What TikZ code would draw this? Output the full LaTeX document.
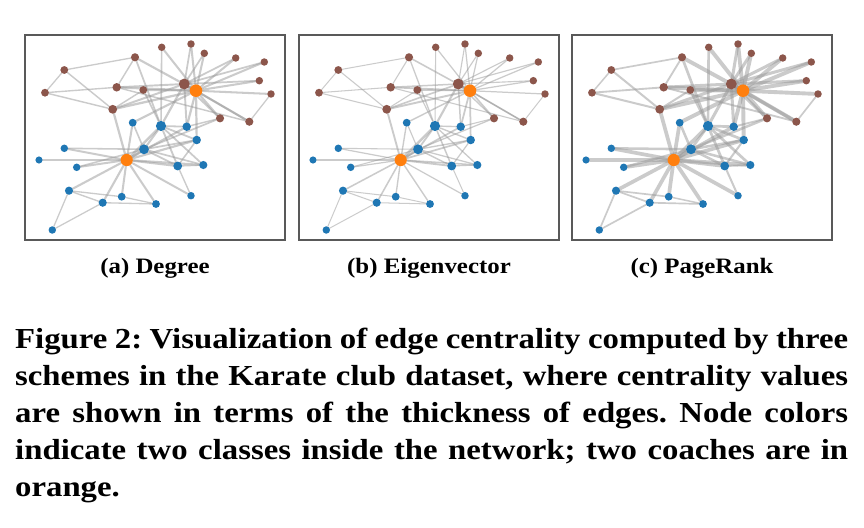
\documentclass[tikz,border=0pt]{standalone}
\usepackage{fontspec}
\setmainfont{Liberation Serif}[FakeStretch=1.13]
\usepackage{xcolor}
\usetikzlibrary{positioning}
\definecolor{hiblue}{HTML}{1F77B4}
\definecolor{officerbrown}{HTML}{8C564B}
\definecolor{coachorange}{HTML}{FF7F0E}
\pgfdeclarelayer{paper}
\pgfdeclarelayer{edges}
\pgfsetlayers{paper,edges,main}
\tikzset{
  panelbox/.style={draw=black!65, line width=1.4pt},
  member/.style={circle, inner sep=0pt, draw=none},
  hiside/.style={member, fill=hiblue},
  offside/.style={member, fill=officerbrown},
  coach/.style={member, fill=coachorange},
  clubedge/.style={draw=black!40, draw opacity=0.5, line cap=round},
  subcap/.style={font=\fontsize{22}{26}\selectfont\bfseries, inner sep=0pt},
  figcap/.style={font=\fontsize{29}{37}\selectfont\bfseries\frenchspacing,
                 inner sep=0pt, text width=833pt, align=justify},
}
% node id / x / y / class (panel (a) coordinates)
\newcommand{\clubnodes}{0/126.7/160/coach, 1/144/149.3/hiside, 2/161/126/hiside,
  3/177.7/166/hiside, 4/156/204/hiside, 5/69/190.7/hiside, 6/102.7/202.7/hiside,
  7/203.3/165/hiside, 8/186.7/126.7/hiside, 9/161.7/47.3/offside,
  10/121.7/196.7/hiside, 11/39/160/hiside, 12/191/195.7/hiside,
  13/196.7/140/hiside, 14/191/44/offside, 15/204.3/53.3/offside,
  16/52.3/230/hiside, 17/64.3/148.3/hiside, 18/235.7/58/offside,
  19/132.7/122.7/hiside, 20/264.3/62/offside, 21/76.7/167.3/hiside,
  22/259.3/80.7/offside, 23/116.7/87.3/offside, 24/64.3/70/offside,
  25/45/92.7/offside, 26/271/94/offside, 27/135/57.3/offside,
  28/143.3/90/offside, 29/249.3/121.7/offside, 30/220/118.3/offside,
  31/112.7/109.3/offside, 32/184.3/84/offside, 33/196/90.7/coach}
\newcommand{\clubties}{0/1, 0/2, 0/3, 0/4, 0/5, 0/6, 0/7, 0/8, 0/10, 0/11,
  0/12, 0/13, 0/17, 0/19, 0/21, 0/31, 1/2, 1/3, 1/7, 1/13, 1/17, 1/19,
  1/21, 1/30, 2/3, 2/7, 2/8, 2/9, 2/13, 2/27, 2/28, 2/32, 3/7, 3/12, 3/13,
  4/6, 4/10, 5/6, 5/10, 5/16, 6/16, 8/30, 8/32, 8/33, 9/33, 13/33, 14/32,
  14/33, 15/32, 15/33, 18/32, 18/33, 19/33, 20/32, 20/33, 22/32, 22/33,
  23/25, 23/27, 23/29, 23/32, 23/33, 24/25, 24/27, 24/31, 25/31, 26/29,
  26/33, 27/33, 28/31, 28/33, 29/32, 29/33, 30/32, 30/33, 31/32, 31/33, 32/33}
\def\clubdeg{{16,9,10,6,3,4,4,4,5,2,3,1,2,5,2,2,2,2,2,3,2,2,2,5,3,3,2,4,3,4,4,6,12,17}}

\begin{document}
\begin{tikzpicture}[x=1pt, y=-1pt]
  \useasboundingbox (0,0) rectangle (864,527);
  \begin{pgfonlayer}{paper}
    \fill[white] (0,0) rectangle (864,527);
  \end{pgfonlayer}
  \foreach \pre/\ox/\mode/\lab in {a/0/1/{(a) Degree}, b/274/2/{(b) Eigenvector},
                                   c/547/3/{(c) PageRank}}{
    \draw[panelbox] (25+\ox,35) rectangle (285+\ox,240);
    \foreach \k/\x/\y/\cls in \clubnodes {
      \pgfmathsetmacro\dk{\clubdeg[\k]}
      \node[\cls, minimum size={2*(3.4+0.17*\dk)}] (\pre\k) at (\x+\ox,\y) {};
    }
    \begin{pgfonlayer}{edges}
      \foreach \u/\v in \clubties {
        \pgfmathsetmacro\du{\clubdeg[\u]}
        \pgfmathsetmacro\dv{\clubdeg[\v]}
        \pgfmathsetmacro\w{\mode==1 ? 0.9+0.06*(\du+\dv) :
          (\mode==2 ? 0.9+0.01*\du*\dv : 1.0+0.17*max(\du,\dv))}
        \draw[clubedge, line width=\w] (\pre\u) -- (\pre\v);
      }
    \end{pgfonlayer}
    \node[subcap, anchor=base] (\pre-label) at (155+\ox,273) {\lab};
  }
  \node[figcap, anchor=north west] (caption) at (15,328) {Figure 2: Visualization
    of edge centrality computed by three\linebreak schemes in the Karate club
    dataset, where centrality values\linebreak are shown in terms of the
    thickness of edges. Node colors\linebreak indicate two classes inside the
    network; two coaches are in\linebreak orange.};
\end{tikzpicture}
\end{document}
